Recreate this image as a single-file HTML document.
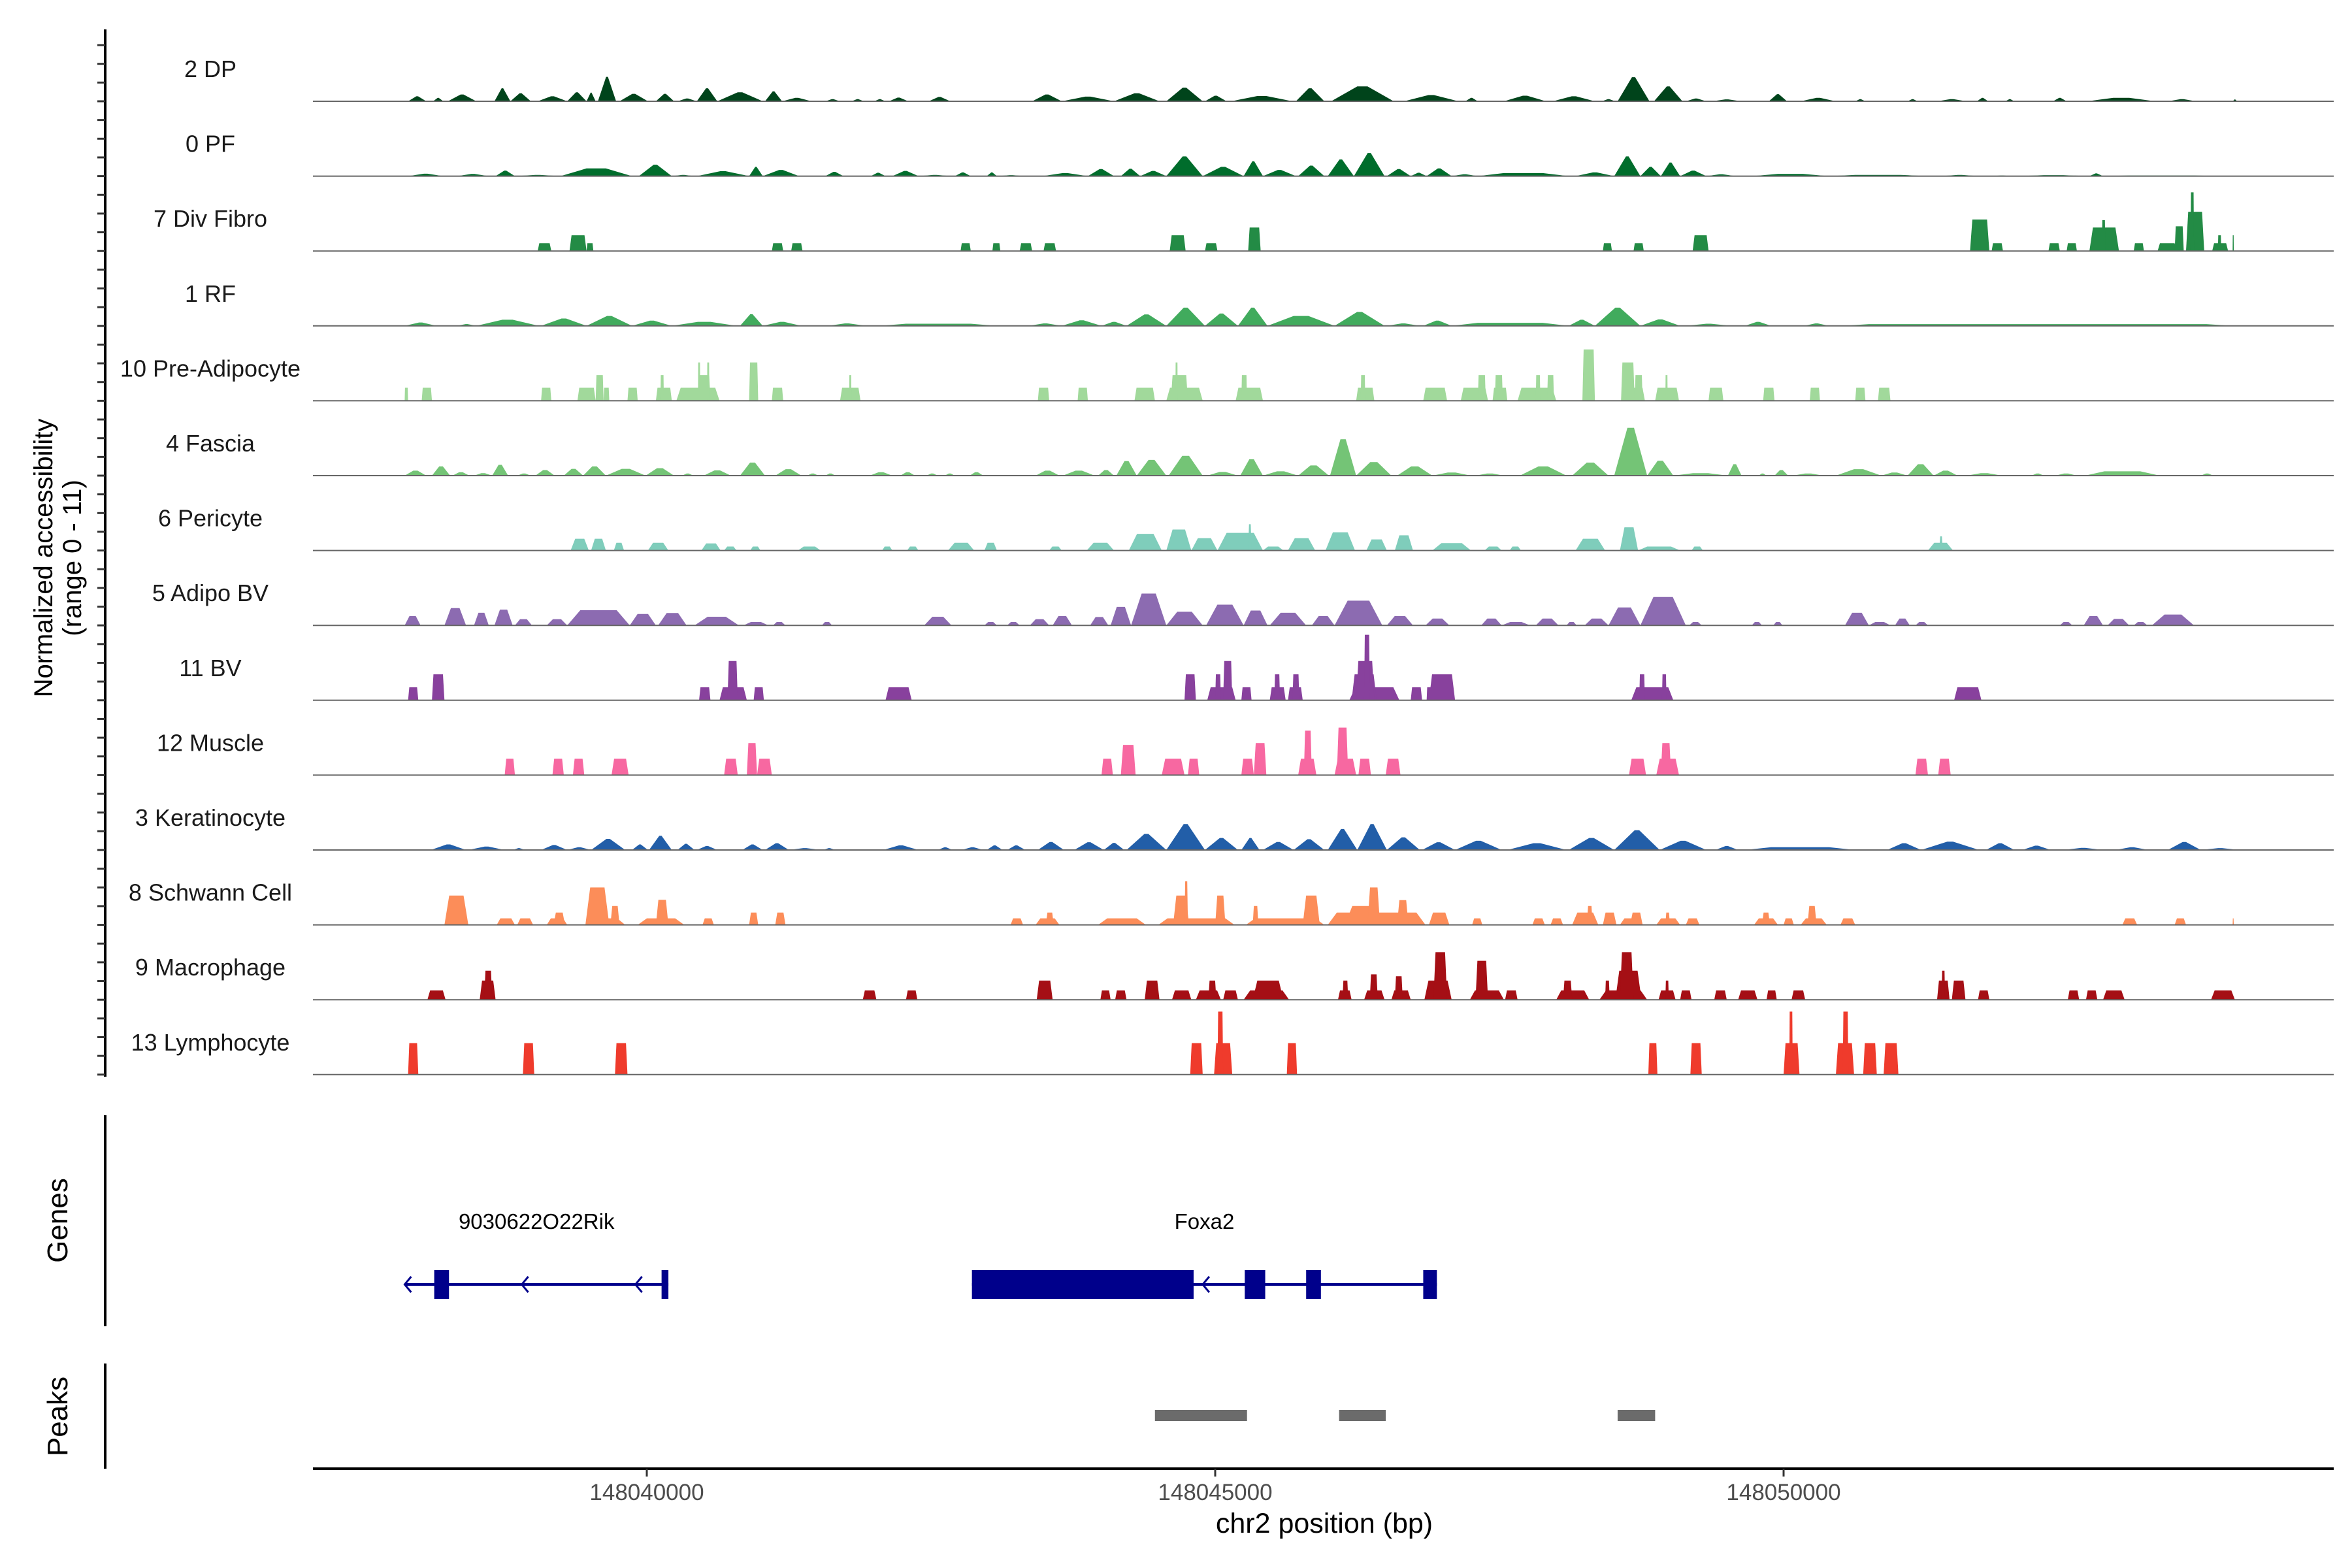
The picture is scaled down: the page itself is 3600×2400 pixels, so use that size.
<!DOCTYPE html>
<html><head><meta charset="utf-8">
<style>
html,body{margin:0;padding:0;background:#fff;}
svg{display:block;}
text{font-family:"Liberation Sans",Arial,sans-serif;}
</style></head>
<body>
<svg id="chart" width="3600" height="2400" viewBox="0 0 3600 2400" xmlns="http://www.w3.org/2000/svg">
<g id="tracks"></g>
<g id="axes"></g>
<g id="genes"></g>
<g id="peaks"></g>
</svg>
<script>
// ---- data (positions in kb offset from chr2:148,000,000; heights in normalized accessibility) ----
const trackNames = ["2 DP","0 PF","7 Div Fibro","1 RF","10 Pre-Adipocyte","4 Fascia","6 Pericyte","5 Adipo BV","11 BV","12 Muscle","3 Keratinocyte","8 Schwann Cell","9 Macrophage","13 Lymphocyte"];
const trackColors = ["#00441b","#006d2c","#238b45","#41ab5d","#a1d99b","#74c476","#7fcdbb","#8c6bb1","#88419d","#f768a1","#225ea8","#fc8d59","#a50f15","#ef3b2c"];
const xTicks = [148040000,148045000,148050000];

const dp = [[37.90,38.06,0.8],[38.12,38.21,0.55],[38.25,38.50,1.1],[38.66,38.80,2.1],[38.80,38.98,1.3],[39.04,39.30,0.8],[39.30,39.47,1.45],[39.47,39.55,1.4],[39.57,39.73,3.95],[39.76,40.01,1.2],[40.08,40.24,1.2],[40.27,40.44,0.45],[40.44,40.62,2.1],[40.62,41.02,1.45],[41.04,41.19,1.6],[41.19,41.45,0.55],[41.57,41.70,0.35],[41.80,41.91,0.35],[42.00,42.10,0.35],[42.13,42.30,0.6],[42.48,42.67,0.7],[43.39,43.65,1.1],[43.65,44.11,0.75],[44.11,44.51,1.3],[44.57,44.89,2.2],[44.91,45.10,0.9],[45.14,45.68,0.85],[45.71,45.96,2.1],[46.02,46.57,2.4],[46.66,47.14,1.0],[47.20,47.31,0.55],[47.54,47.91,0.9],[47.97,48.34,0.8],[48.40,48.52,0.35],[48.54,48.82,3.9],[48.86,49.11,2.4],[49.14,49.32,0.45],[49.37,49.63,0.3],[49.87,50.03,1.15],[50.15,50.46,0.55],[50.63,50.72,0.35],[51.09,51.18,0.35],[51.35,51.61,0.35],[51.70,51.80,0.55],[51.95,52.03,0.35],[52.37,52.49,0.55],[52.67,53.27,0.55],[53.38,53.63,0.35],[53.95,53.99,0.3]];
const pf = [[37.90,38.21,0.4],[38.33,38.61,0.35],[38.67,38.84,0.9],[38.84,39.24,0.2],[39.24,39.87,1.25],[39.93,40.22,1.85],[40.22,40.42,0.2],[40.44,40.90,0.8],[40.90,41.02,1.5],[41.02,41.34,1.0],[41.57,41.73,0.7],[41.97,42.10,0.55],[42.16,42.39,0.85],[42.39,42.68,0.2],[42.71,42.85,0.6],[42.99,43.08,0.6],[43.08,43.33,0.15],[43.48,43.88,0.5],[43.88,44.11,1.15],[44.17,44.34,1.2],[44.34,44.57,0.85],[44.57,44.89,3.2],[44.89,45.25,1.5],[45.25,45.42,2.4],[45.42,45.71,1.0],[45.73,45.96,1.7],[45.99,46.22,2.7],[46.22,46.49,3.75],[46.51,46.72,1.15],[46.72,46.86,0.55],[46.86,47.08,1.25],[47.08,47.31,0.3],[47.31,48.11,0.5],[48.17,48.51,0.6],[48.51,48.74,3.2],[48.74,48.92,1.5],[48.92,49.09,2.2],[49.09,49.32,0.9],[49.32,49.58,0.3],[49.72,50.40,0.35],[50.40,51.26,0.2],[51.38,51.72,0.2],[51.83,52.01,0.1],[52.06,52.69,0.15],[52.69,52.81,0.45],[52.81,53.84,0.1]];
const divFibro = [[39.04,39.16,1.27],[39.32,39.47,2.54],[39.47,39.53,1.27],[41.10,41.20,1.27],[41.27,41.37,1.27],[42.76,42.85,1.27],[43.04,43.11,1.27],[43.28,43.39,1.27],[43.49,43.60,1.27],[44.60,44.74,2.54],[44.91,45.02,1.27],[45.29,45.40,3.8],[48.41,48.49,1.27],[48.68,48.77,1.27],[49.20,49.34,2.54],[51.64,51.81,5.1],[51.83,51.93,1.27],[52.33,52.43,1.27],[52.49,52.58,1.27],[52.69,52.95,3.8],[52.80,52.83,5.0],[53.08,53.17,1.27],[53.29,53.46,1.27],[53.44,53.52,4.0],[53.54,53.70,6.35],[53.58,53.61,9.5],[53.77,53.91,1.27],[53.82,53.85,2.54],[53.95,53.96,2.54]];
const rf = [[37.87,38.15,0.55],[38.33,38.50,0.3],[38.50,39.05,1.0],[39.07,39.47,1.2],[39.47,39.87,1.6],[39.87,40.22,0.85],[40.22,40.79,0.65],[40.82,41.02,1.9],[41.02,41.36,0.65],[41.59,41.93,0.4],[42.05,43.08,0.35],[43.36,43.65,0.4],[43.65,44.00,0.9],[44.00,44.22,0.65],[44.22,44.57,1.85],[44.57,44.91,2.95],[44.91,45.20,2.0],[45.20,45.46,2.95],[45.46,46.05,1.6],[46.05,46.49,2.25],[46.51,46.80,0.4],[46.83,47.08,0.85],[47.08,48.11,0.5],[48.11,48.34,1.0],[48.34,48.74,2.95],[48.74,49.09,1.05],[49.14,49.54,0.35],[49.66,49.89,0.65],[50.18,50.40,0.4],[50.52,53.95,0.28]];
const preAdipo = [[37.87,37.90,2.1],[38.02,38.11,2.1],[39.07,39.16,2.1],[39.39,39.55,2.1],[39.55,39.62,4.15],[39.62,39.67,2.1],[39.83,39.92,2.1],[40.08,40.22,2.1],[40.12,40.15,4.15],[40.26,40.64,2.1],[40.45,40.56,4.15],[40.45,40.47,6.2],[40.53,40.55,6.2],[40.90,40.98,6.2],[41.10,41.20,2.1],[41.70,41.88,2.1],[41.78,41.80,4.15],[43.44,43.54,2.1],[43.79,43.88,2.1],[44.29,44.47,2.1],[44.57,44.89,2.1],[44.61,44.76,4.15],[44.65,44.67,6.2],[45.18,45.42,2.1],[45.23,45.28,4.15],[46.24,46.40,2.1],[46.28,46.32,4.15],[46.83,47.04,2.1],[47.16,47.40,2.1],[47.31,47.38,4.15],[47.44,47.57,2.1],[47.46,47.53,4.15],[47.66,48.00,2.1],[47.82,47.86,4.15],[47.92,47.98,4.15],[48.23,48.34,8.3],[48.57,48.78,2.1],[48.57,48.69,6.2],[48.69,48.76,4.15],[48.87,49.08,2.1],[48.96,48.98,4.15],[49.34,49.47,2.1],[49.82,49.92,2.1],[50.23,50.32,2.1],[50.63,50.72,2.1],[50.83,50.94,2.1]];
const fascia = [[37.87,38.06,0.8],[38.11,38.27,1.5],[38.29,38.44,0.55],[38.48,38.64,0.4],[38.64,38.78,1.75],[38.86,38.98,0.35],[39.02,39.19,0.9],[39.27,39.44,1.1],[39.44,39.64,1.5],[39.64,39.99,1.1],[39.99,40.24,1.2],[40.31,40.41,0.35],[40.50,40.74,0.85],[40.82,41.04,2.1],[41.13,41.36,1.05],[41.41,41.51,0.35],[41.57,41.66,0.35],[41.96,42.16,0.55],[42.23,42.36,0.55],[42.46,42.56,0.35],[42.62,42.71,0.35],[42.84,42.96,0.55],[43.42,43.63,0.8],[43.66,43.94,0.8],[43.97,44.11,0.9],[44.13,44.31,2.35],[44.31,44.57,2.55],[44.59,44.89,3.2],[44.93,45.20,0.6],[45.22,45.42,2.65],[45.42,45.73,0.7],[45.73,46.00,1.65],[46.01,46.24,5.9],[46.24,46.55,2.2],[46.60,46.91,1.5],[46.91,47.25,0.5],[47.29,47.54,0.35],[47.68,48.09,1.5],[48.14,48.46,2.1],[48.51,48.80,7.75],[48.80,49.03,2.4],[49.03,49.51,0.4],[49.51,49.63,1.85],[49.78,49.85,0.35],[49.92,50.04,0.9],[50.08,50.35,0.35],[50.46,50.86,1.05],[50.86,51.09,0.5],[51.09,51.32,1.85],[51.32,51.53,0.8],[51.61,51.92,0.4],[52.18,52.29,0.35],[52.39,52.58,0.35],[52.65,53.31,0.7],[53.67,53.78,0.35]];
const pericyte = [[39.33,39.49,1.9],[39.51,39.64,1.9],[39.71,39.80,1.25],[40.01,40.19,1.25],[40.48,40.65,1.15],[40.68,40.79,0.65],[40.91,41.00,0.65],[41.33,41.53,0.65],[42.07,42.16,0.65],[42.29,42.39,0.65],[42.65,42.88,1.25],[42.97,43.08,1.25],[43.54,43.65,0.65],[43.87,44.11,1.25],[44.24,44.53,2.7],[44.57,44.79,3.4],[44.79,45.02,2.0],[45.02,45.42,2.85],[45.29,45.32,4.25],[45.42,45.60,0.65],[45.64,45.88,2.0],[45.97,46.23,2.95],[46.33,46.51,1.8],[46.58,46.74,2.45],[46.91,47.25,1.2],[47.37,47.52,0.65],[47.59,47.69,0.65],[48.17,48.43,1.9],[48.56,48.72,3.75],[48.72,49.09,0.65],[49.19,49.29,0.65],[51.27,51.49,1.25],[51.37,51.40,2.3]];
const adipoBV = [[37.87,38.01,1.5],[38.22,38.41,2.8],[38.48,38.61,2.05],[38.66,38.82,2.55],[38.84,38.99,1.0],[39.12,39.30,1.0],[39.30,39.85,2.45],[39.85,40.08,1.85],[40.10,40.35,2.0],[40.42,40.81,1.4],[40.85,41.07,0.55],[41.11,41.22,0.55],[41.54,41.63,0.55],[42.44,42.68,1.4],[42.97,43.08,0.55],[43.17,43.28,0.55],[43.37,43.54,1.0],[43.57,43.74,1.5],[43.90,44.06,1.35],[44.08,44.26,3.0],[44.26,44.57,5.15],[44.57,44.89,2.2],[44.92,45.25,3.35],[45.25,45.46,2.4],[45.48,45.80,2.05],[45.85,46.05,1.5],[46.05,46.47,4.0],[46.51,46.74,1.5],[46.85,47.06,1.1],[47.34,47.52,1.1],[47.52,47.77,0.55],[47.82,48.02,1.1],[48.09,48.18,0.55],[48.25,48.46,1.1],[48.46,48.74,2.9],[48.74,49.14,4.6],[49.17,49.28,0.55],[49.72,49.81,0.55],[49.91,49.99,0.55],[50.54,50.75,2.05],[50.75,50.94,0.55],[50.98,51.11,1.1],[51.16,51.27,0.55],[52.43,52.54,0.55],[52.64,52.81,1.5],[52.85,53.04,1.05],[53.08,53.20,0.55],[53.24,53.61,1.75]];
const bv = [[37.90,37.99,2.1],[38.11,38.22,4.2],[40.46,40.56,2.1],[40.64,40.88,2.1],[40.71,40.80,6.35],[40.94,41.03,2.1],[42.10,42.33,2.1],[44.73,44.83,4.2],[44.93,45.18,2.1],[45.00,45.05,4.2],[45.07,45.15,6.35],[45.23,45.32,2.1],[45.48,45.62,2.1],[45.52,45.57,4.2],[45.64,45.77,2.1],[45.68,45.74,4.2],[46.18,46.62,2.1],[46.20,46.42,4.2],[46.24,46.40,6.35],[46.31,46.36,10.6],[46.72,46.82,2.1],[46.86,46.90,2.1],[46.88,47.11,4.2],[48.66,49.03,2.1],[48.73,48.78,4.2],[48.93,48.97,4.2],[51.50,51.74,2.1]];
const muscle = [[38.75,38.84,2.65],[39.17,39.27,2.65],[39.35,39.45,2.65],[39.69,39.84,2.65],[40.68,40.80,2.65],[40.88,40.97,5.2],[40.97,41.10,2.65],[44.00,44.10,2.65],[44.17,44.30,4.9],[44.53,44.73,2.65],[44.76,44.86,2.65],[45.23,45.34,2.65],[45.34,45.45,5.2],[45.73,45.89,2.65],[45.78,45.85,7.2],[46.05,46.24,2.65],[46.07,46.17,7.7],[46.26,46.37,2.65],[46.50,46.63,2.65],[48.64,48.79,2.65],[48.88,49.08,2.65],[48.92,49.01,5.2],[51.16,51.27,2.65],[51.36,51.47,2.65]];
const kerat = [[38.10,38.41,0.9],[38.43,38.75,0.55],[38.82,38.93,0.3],[39.07,39.30,0.8],[39.30,39.51,0.45],[39.51,39.81,1.8],[39.87,40.01,0.9],[40.02,40.22,2.3],[40.27,40.42,1.0],[40.44,40.62,0.65],[40.84,41.02,0.9],[41.04,41.25,1.1],[41.25,41.53,0.3],[41.55,41.66,0.3],[42.08,42.39,0.75],[42.56,42.69,0.45],[42.77,42.96,0.45],[42.99,43.13,0.75],[43.17,43.33,0.75],[43.44,43.67,1.3],[43.76,44.02,1.25],[44.02,44.20,1.15],[44.22,44.57,2.6],[44.57,44.91,4.2],[44.91,45.20,1.95],[45.23,45.39,1.95],[45.42,45.69,1.3],[45.69,45.96,1.75],[45.99,46.25,3.4],[46.25,46.51,4.2],[46.51,46.80,2.05],[46.82,47.11,1.25],[47.11,47.52,1.5],[47.57,48.09,1.1],[48.11,48.51,1.95],[48.51,48.91,3.2],[48.91,49.32,1.5],[49.40,49.60,0.65],[49.66,50.63,0.45],[50.91,51.21,1.1],[51.21,51.72,1.35],[51.78,52.03,1.1],[52.10,52.35,0.7],[52.46,52.81,0.35],[52.92,53.21,0.45],[53.38,53.67,1.3],[53.67,54.01,0.3]];
const schwann = [[38.22,38.43,4.75],[38.68,38.84,1.05],[38.86,39.00,1.05],[39.12,39.30,1.05],[39.18,39.28,2.0],[39.46,39.81,1.05],[39.46,39.67,6.05],[39.68,39.76,3.05],[39.92,40.33,1.05],[40.08,40.19,4.05],[40.49,40.59,1.05],[40.90,40.98,2.0],[41.13,41.22,2.0],[43.20,43.31,1.05],[43.42,43.63,1.05],[43.51,43.58,2.0],[43.97,44.39,1.05],[44.50,45.17,1.05],[44.63,44.77,4.75],[44.73,44.76,7.05],[45.00,45.09,4.75],[45.27,45.96,1.05],[45.33,45.38,3.05],[45.77,45.92,4.75],[45.99,46.85,2.0],[46.14,46.47,3.05],[46.34,46.45,6.05],[46.60,46.70,4.0],[46.88,47.06,2.0],[47.26,47.35,1.05],[47.79,47.90,1.05],[47.95,48.06,1.05],[48.14,48.37,2.0],[48.27,48.32,3.05],[48.41,48.53,2.0],[48.56,48.76,1.05],[48.65,48.76,2.0],[48.88,49.09,1.05],[48.96,49.00,2.0],[49.14,49.26,1.05],[49.74,49.95,1.05],[49.81,49.88,2.0],[50.00,50.09,1.05],[50.15,50.38,1.05],[50.21,50.29,3.05],[50.50,50.63,1.05],[52.98,53.11,1.05],[53.44,53.54,1.05],[53.95,53.96,1.05]];
const macro = [[38.07,38.23,1.5],[38.53,38.67,3.1],[38.57,38.64,4.7],[41.90,42.02,1.5],[42.28,42.38,1.5],[43.43,43.57,3.1],[43.99,44.08,1.5],[44.12,44.22,1.5],[44.38,44.51,3.1],[44.62,44.79,1.5],[44.83,45.05,1.5],[44.94,45.01,3.1],[45.07,45.20,1.5],[45.25,45.65,1.5],[45.33,45.60,3.1],[46.08,46.20,1.5],[46.12,46.17,3.1],[46.31,46.49,1.5],[46.36,46.43,4.1],[46.55,46.72,1.5],[46.58,46.65,3.8],[46.84,47.08,3.1],[46.92,47.04,7.7],[47.24,47.54,1.5],[47.29,47.40,6.3],[47.55,47.66,1.5],[48.00,48.29,1.5],[48.06,48.14,3.1],[48.38,48.80,1.5],[48.43,48.47,3.1],[48.52,48.75,4.7],[48.56,48.68,7.7],[48.90,49.05,1.5],[48.96,48.99,3.1],[49.09,49.19,1.5],[49.39,49.50,1.5],[49.60,49.77,1.5],[49.85,49.94,1.5],[50.07,50.19,1.5],[51.35,51.46,3.1],[51.39,51.42,4.7],[51.48,51.60,3.1],[51.71,51.81,1.5],[52.50,52.60,1.5],[52.66,52.76,1.5],[52.81,53.00,1.5],[53.76,53.97,1.5]];
const lympho = [[37.90,37.99,5.1],[38.91,39.01,5.1],[39.72,39.83,5.1],[44.78,44.89,5.1],[44.99,45.15,5.1],[45.02,45.07,10.2],[45.63,45.72,5.1],[48.81,48.89,5.1],[49.18,49.28,5.1],[50.00,50.14,5.1],[50.05,50.08,10.2],[50.46,50.62,5.1],[50.52,50.57,10.2],[50.70,50.82,5.1],[50.88,51.01,5.1]];
const trackData = [dp,pf,divFibro,rf,preAdipo,fascia,pericyte,adipoBV,bv,muscle,kerat,schwann,macro,lympho];

// genes (kb)
const geneNames = ["9030622O22Rik","Foxa2"];
const geneSpans = [[37.87,40.19],[42.86,46.95]];
const geneExons = [[[38.13,38.26],[40.13,40.19]],[[42.86,44.81],[45.26,45.44],[45.80,45.93],[46.83,46.95]]];
const strandArrows = [37.87,38.90,39.90,44.89];
const peakRanges = [[44.47,45.28],[46.09,46.50],[48.54,48.87]];

// ---- layout ----
const NS = "http://www.w3.org/2000/svg";
const X0 = 479, X1 = 3572;
function xs(kb){ return 990 + (kb - 40) * 174.0; }
function base(i){ return 155 + 114.6 * i; }
const unit = 104 / 11;
function yv(i, v){ return base(i) - v * unit; }
const taper = [0.45,0.45,0.12,0.45,0.1,0.4,0.25,0.3,0.12,0.15,0.45,0.2,0.15,0.12];
const taperCap = [40,40,10,40,8,30,14,20,10,10,40,14,10,8];
function mk(tag, attrs, parent){ const e = document.createElementNS(NS, tag); for (const k in attrs) e.setAttribute(k, attrs[k]); parent.appendChild(e); return e; }

const gT = document.getElementById('tracks');
trackData.forEach((arr, i) => {
  const g = mk('g', {}, gT);
  
  
  arr.forEach(seg => {
    const a = xs(seg[0]), b = Math.max(xs(seg[1]), a + 1.5);
    const t = Math.min((b - a) * taper[i], taperCap[i]);
    const top = yv(i, seg[2]), by = base(i);
    const p = mk('polygon', {points: `${a},${by} ${a+t},${top} ${b-t},${top} ${b},${by}`, fill: trackColors[i]}, g);
    
    
  });
  const ln = mk('line', {x1: X0, x2: X1, y1: base(i), y2: base(i), stroke: '#666', 'stroke-width': 2}, g);
  
  
  const lb = mk('text', {x: 322, y: base(i) - 37, 'font-size': 36, fill: '#1a1a1a', 'text-anchor': 'middle'}, g);
  
  
  lb.textContent = trackNames[i];
});

const gA = document.getElementById('axes');
const yl = mk('line', {x1:161, x2:161, y1:45, y2:1648, stroke:'#000', 'stroke-width':4}, gA);


for (let i = 0; i < 14; i++) {
  for (let k = 0; k < 4; k++) {
    const y = base(i) - k * 114.6 / 4;
    const tk = mk('line', {x1:149, x2:161, y1:y, y2:y, stroke:'#333', 'stroke-width':3}, gA);
    
    
  }
}
const yt = mk('text', {transform:'translate(80,854) rotate(-90)', 'font-size':40, 'text-anchor':'middle', fill:'#000'}, gA);


const t1 = mk('tspan', {x:0, dy:0}, yt); t1.textContent = 'Normalized accessibility';
const t2 = mk('tspan', {x:0, dy:44}, yt); t2.textContent = '(range 0 - 11)';

const xl = mk('line', {x1:X0, x2:X1, y1:2248, y2:2248, stroke:'#000', 'stroke-width':4}, gA);


xTicks.forEach(v => {
  const x = xs((v - 148000000) / 1000);
  const tk = mk('line', {x1:x, x2:x, y1:2248, y2:2260, stroke:'#333', 'stroke-width':3}, gA);
  
  
  const tl = mk('text', {x:x, y:2296, 'font-size':35, fill:'#4d4d4d', 'text-anchor':'middle'}, gA);
  
  
  tl.textContent = String(v);
});
const xt = mk('text', {x:2027, y:2346, 'font-size':43, fill:'#000', 'text-anchor':'middle'}, gA);


xt.textContent = 'chr2 position (bp)';

// genes panel
const gG = document.getElementById('genes');
const ga = mk('line', {x1:161, x2:161, y1:1707, y2:2030, stroke:'#000', 'stroke-width':4}, gG);


const gl = mk('text', {transform:'translate(103,1868) rotate(-90)', 'font-size':44, 'text-anchor':'middle', fill:'#000'}, gG);


gl.textContent = 'Genes';
const GY = 1966;
geneNames.forEach((nm, j) => {
  const g = mk('g', {}, gG);
  
  
  const s = xs(geneSpans[j][0]), e = xs(geneSpans[j][1]);
  const ln = mk('line', {x1:s, x2:e, y1:GY, y2:GY, stroke:'#00008b', 'stroke-width':4}, g);
  
  
  geneExons[j].forEach(ex => {
    const r = mk('rect', {x:xs(ex[0]), y:GY-22, width:Math.max(xs(ex[1])-xs(ex[0]),4), height:44, fill:'#00008b'}, g);
    
    
  });
  const lb = mk('text', {x:(s+e)/2, y:1881, 'font-size':33, fill:'#000', 'text-anchor':'middle'}, g);
  
  
  lb.textContent = nm;
});
strandArrows.forEach(c => {
  const x = xs(c);
  const ch = mk('polyline', {points:`${x+10},${GY-12} ${x},${GY} ${x+10},${GY+12}`, fill:'none', stroke:'#00008b', 'stroke-width':3}, gG);
  
  
});

// peaks panel
const gP = document.getElementById('peaks');
const pa = mk('line', {x1:161, x2:161, y1:2087, y2:2248, stroke:'#000', 'stroke-width':4}, gP);


const pl = mk('text', {transform:'translate(103,2168) rotate(-90)', 'font-size':44, 'text-anchor':'middle', fill:'#000'}, gP);


pl.textContent = 'Peaks';
peakRanges.forEach(pr => {
  const r = mk('rect', {x:xs(pr[0]), y:2158, width:xs(pr[1])-xs(pr[0]), height:17, fill:'#6b6b6b'}, gP);
  
  
});
</script>
</body></html>
